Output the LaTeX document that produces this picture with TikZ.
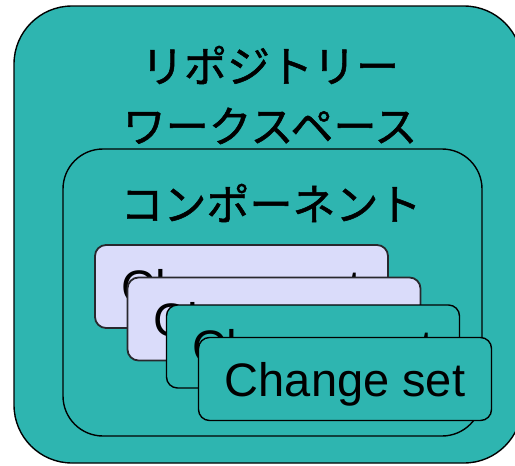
\documentclass[tikz,border=0pt]{standalone}
\usepackage{fontspec}
\setmainfont{Liberation Sans}
\newfontfamily\jpfont[FakeBold=1.2]{Noto Sans CJK JP}
\definecolor{tealfill}{RGB}{46,181,176}
\definecolor{lavfill}{RGB}{218,220,250}
\definecolor{lavline}{RGB}{40,40,45}
\begin{document}
\begin{tikzpicture}[x=1pt,y=-1pt,
  container/.style={draw=black, line width=1.4pt, fill=tealfill, inner sep=0pt},
  jptext/.style={font=\jpfont\fontsize{43}{60}\selectfont, align=center, inner sep=0pt},
  csbox/.style={draw=black, line width=1.4pt, rounded corners=11pt, minimum width=293pt, minimum height=83pt,
    inner sep=0pt, text height=34pt, text depth=0pt, font=\fontsize{47}{50}\selectfont},
  cslav/.style={csbox, fill=lavfill, draw=lavline, line width=1.8pt},
  csteal/.style={csbox, fill=tealfill}
]
\useasboundingbox (0,0) rectangle (515,466);
\node[container, rounded corners=58pt, minimum width=508pt, minimum height=457pt] (repo) at (268,234.5) {};
\node[jptext] (repotitle) at (270,95) {リポジトリー\\ワークスペース};
\node[container, rounded corners=40pt, minimum width=419pt, minimum height=287pt] (comp) at (272.5,292.5) {};
\node[jptext] (comptitle) at (271,203) {コンポーネント};
\node[cslav] (cs1) at (241.5,286.5) {Change set};
\node[cslav] (cs2) at (274,319) {Change set};
\node[csteal] (cs3) at (313,346.5) {Change set};
\node[csteal] (cs4) at (345,379) {Change set};
\end{tikzpicture}
\end{document}
